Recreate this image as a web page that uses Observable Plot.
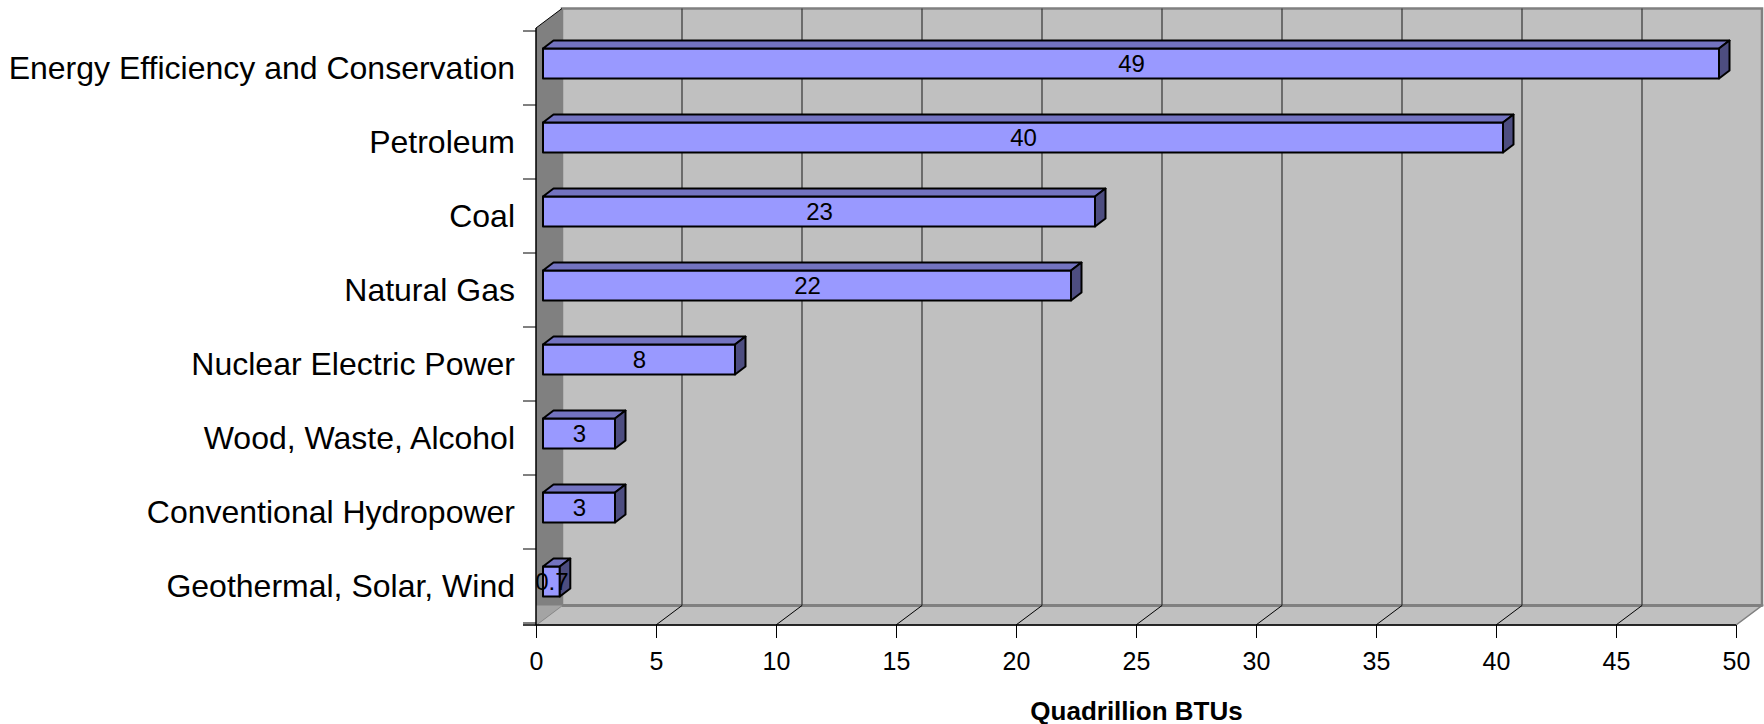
<!DOCTYPE html>
<html>
<head>
<meta charset="utf-8">
<script src="https://cdn.jsdelivr.net/npm/d3@7"></script>
<script src="https://cdn.jsdelivr.net/npm/@observablehq/plot@0.6"></script>
<style>
  html, body { margin: 0; padding: 0; background: #ffffff; }
  #chart svg { display: block; }
</style>
</head>
<body>
<div id="chart"></div>
<script>
const categories = [
  "Energy Efficiency and Conservation",
  "Petroleum",
  "Coal",
  "Natural Gas",
  "Nuclear Electric Power",
  "Wood, Waste, Alcohol",
  "Conventional Hydropower",
  "Geothermal, Solar, Wind"
];
const values = [49, 40, 23, 22, 8, 3, 3, 0.7];
const valueLabels = ["49", "40", "23", "22", "8", "3", "3", "0.7"];
const xTicks = [0, 5, 10, 15, 20, 25, 30, 35, 40, 45, 50];
const axisTitle = "Quadrillion BTUs";

const data = categories.map((c, i) => ({category: c, value: values[i], label: valueLabels[i]}));

// 3D styling (pixel offsets)
const DEPTH = [26, -19.5];     // wall / floor depth
const BAR_OFF = [7, -4.5];     // bar front face offset from front plane
const BAR_DEPTH = [10.5, -8];  // bar depth

function bandInfo(y) {
  const bw = typeof y.bandwidth === "function" ? y.bandwidth() : 29.85;
  const step = y(categories[1]) - y(categories[0]);
  return {bw, step};
}

function walls(index, scales, values, dim) {
  const {x, y} = scales;
  const top = dim.marginTop, bot = dim.height - dim.marginBottom;
  const x0 = x(xTicks[0]), x1 = x(xTicks[xTicks.length - 1]);
  const [dx, dy] = DEPTH;
  const g = d3.create("svg:g");
  // back wall
  g.append("rect")
    .attr("x", x0 + dx).attr("y", top + dy)
    .attr("width", x1 - x0).attr("height", bot - top)
    .attr("fill", "#C0C0C0").attr("stroke", "#808080").attr("stroke-width", 2.5);
  // floor
  g.append("path")
    .attr("d", `M${x0},${bot}L${x0 + dx},${bot + dy}L${x1 + dx},${bot + dy}L${x1},${bot}Z`)
    .attr("fill", "#C0C0C0").attr("stroke", "#808080").attr("stroke-width", 1.5);
  // back-bottom edge, thicker
  g.append("line")
    .attr("x1", x0 + dx).attr("x2", x1 + dx).attr("y1", bot + dy).attr("y2", bot + dy)
    .attr("stroke", "#808080").attr("stroke-width", 3);
  // left wall
  g.append("path")
    .attr("d", `M${x0},${top}L${x0 + dx},${top + dy}L${x0 + dx},${bot + dy}L${x0},${bot}Z`)
    .attr("fill", "#808080");
  g.append("path")
    .attr("d", `M${x0},${bot + dy}L${x0 + dx},${bot + dy}L${x0},${bot}Z`)
    .attr("fill", "#A4A4A4");
  // vertical gridlines on back wall
  for (const t of xTicks.slice(1, -1)) {
    g.append("line")
      .attr("x1", x(t) + dx).attr("x2", x(t) + dx)
      .attr("y1", top + dy).attr("y2", bot + dy)
      .attr("stroke", "#333333").attr("stroke-width", 1.2);
  }
  // diagonal gridlines on floor
  for (const t of xTicks.slice(1, -1)) {
    g.append("line")
      .attr("x1", x(t)).attr("x2", x(t) + dx)
      .attr("y1", bot).attr("y2", bot + dy)
      .attr("stroke", "#000000").attr("stroke-width", 1);
  }
  // left wall top edge
  g.append("line")
    .attr("x1", x0).attr("x2", x0 + dx).attr("y1", top).attr("y2", top + dy)
    .attr("stroke", "#000000").attr("stroke-width", 1);
  // y-axis line (front edge of left wall)
  g.append("line")
    .attr("x1", x0).attr("x2", x0).attr("y1", top).attr("y2", bot)
    .attr("stroke", "#000000").attr("stroke-width", 1.5);
  // x-axis line (front edge of floor)
  g.append("line")
    .attr("x1", x0 - 13).attr("x2", x1).attr("y1", bot).attr("y2", bot)
    .attr("stroke", "#000000").attr("stroke-width", 1.5);
  // category boundary ticks
  const {bw, step} = bandInfo(y);
  const bounds = categories.map(c => y(c) + bw / 2 - step / 2);
  bounds.push(y(categories[categories.length - 1]) + bw / 2 + step / 2);
  for (const b of bounds) {
    g.append("line")
      .attr("x1", x0 - 13).attr("x2", x0).attr("y1", b).attr("y2", b)
      .attr("stroke", "#000000").attr("stroke-width", 1);
  }
  return g.node();
}

function barFaces(index, scales) {
  const {x, y} = scales;
  const {bw} = bandInfo(y);
  const [ox, oy] = BAR_OFF;
  const [bx, by] = BAR_DEPTH;
  const g = d3.create("svg:g")
    .attr("stroke", "#000000").attr("stroke-width", 2).attr("stroke-linejoin", "round");
  for (const d of data) {
    const xa = x(0) + ox, xb = x(d.value) + ox;
    const yt = y(d.category) + oy, yb = yt + bw;
    g.append("path")
      .attr("d", `M${xa},${yt}L${xb},${yt}L${xb + bx},${yt + by}L${xa + bx},${yt + by}Z`)
      .attr("fill", "#7373C0");
    g.append("path")
      .attr("d", `M${xb},${yt}L${xb + bx},${yt + by}L${xb + bx},${yb + by}L${xb},${yb}Z`)
      .attr("fill", "#4D4D80");
  }
  return g.node();
}

const chart = Plot.plot({
  width: 1764,
  height: 724,
  marginLeft: 536,
  marginRight: 28,
  marginTop: 28,
  marginBottom: 99,
  style: {fontFamily: "'Liberation Sans', Arial, sans-serif", background: "#ffffff", color: "#000000", overflow: "visible"},
  x: {domain: [0, 50], label: null},
  y: {domain: categories, paddingInner: 0.6, paddingOuter: 0.3, label: null},
  marks: [
    walls,
    Plot.barX(data, {
      x1: 0, x2: "value", y: "category",
      dx: BAR_OFF[0], dy: BAR_OFF[1],
      fill: "#9999FF", stroke: "#000000", strokeWidth: 2, strokeLinejoin: "round"
    }),
    barFaces,
    Plot.text(data, {
      x: d => d.value / 2, y: "category", text: "label",
      dx: BAR_OFF[0], dy: BAR_OFF[1],
      fontSize: 24, fill: "#000000"
    }),
    Plot.axisX({
      ticks: xTicks, tickSize: 13, tickPadding: 14, fontSize: 25,
      tickFormat: d => String(d), label: null
    }),
    Plot.axisY({
      tickSize: 0, tickPadding: 21.5, fontSize: 32, label: null
    }),
    Plot.text([axisTitle], {
      x: () => 25, text: d => d, frameAnchor: "bottom", lineAnchor: "middle", dy: 86,
      fontSize: 26, fontWeight: "bold", fill: "#000000"
    })
  ]
});
document.getElementById("chart").appendChild(chart);
</script>
</body>
</html>
